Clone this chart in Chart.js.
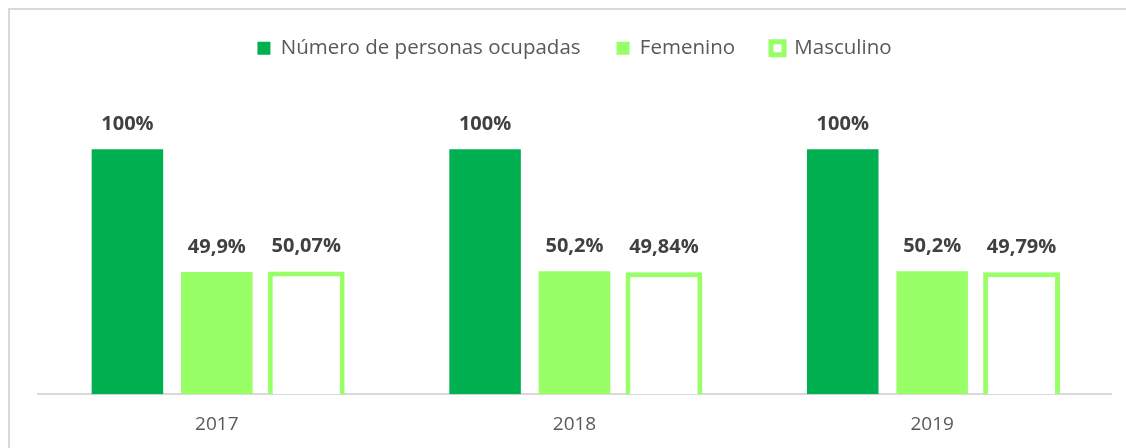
<!DOCTYPE html>
<html>
<head>
<meta charset="utf-8">
<script src="https://cdn.jsdelivr.net/npm/chart.js@4.4.1/dist/chart.umd.min.js"></script>
<style>
  html, body { margin: 0; padding: 0; background: #fff; }
  #wrap { position: relative; width: 1126px; height: 448px; overflow: hidden; }
  #frame { position: absolute; left: 8px; top: 8px; width: 1200px; height: 500px;
           border-top: 2px solid #d9d9d9; border-left: 2px solid #d9d9d9; box-sizing: border-box; }
  canvas { position: absolute; left: 0; top: 0; width: 1126px; height: 455px; }
</style>
</head>
<body>
<div id="wrap">
  <div id="frame"></div>
  <canvas id="chart" width="1126" height="455"></canvas>
</div>
<script>
// ── datos ──
const years = ['2017', '2018', '2019'];
const ocupadas = [100, 100, 100];
const femenino = [49.9, 50.2, 50.2];
const masculino = [50.07, 49.84, 49.79];
const labelsOcupadas = ['100%', '100%', '100%'];
const labelsFemenino = ['49,9%', '50,2%', '50,2%'];
const labelsMasculino = ['50,07%', '49,84%', '49,79%'];

const FONT = "'Open Sans', 'DejaVu Sans', sans-serif";
const DARK = '#00B050';
const LIGHT = '#99FF66';

// ── etiquetas encima de las barras ──
const barLabels = {
  id: 'barLabels',
  afterDatasetsDraw(chart) {
    const ctx = chart.ctx;
    ctx.save();
    ctx.font = `bold 20px ${FONT}`;
    ctx.fillStyle = '#404040';
    ctx.textAlign = 'center';
    ctx.textBaseline = 'bottom';
    chart.data.datasets.forEach((ds, i) => {
      chart.getDatasetMeta(i).data.forEach((bar, j) => {
        ctx.fillText(ds.valueLabels[j], bar.x, bar.y - 15);
      });
    });
    ctx.restore();
  }
};

new Chart(document.getElementById('chart'), {
  type: 'bar',
  data: {
    labels: years,
    datasets: [
      { label: 'Número de personas ocupadas', data: ocupadas, valueLabels: labelsOcupadas,
        backgroundColor: DARK, borderWidth: 0 },
      { label: 'Femenino', data: femenino, valueLabels: labelsFemenino,
        backgroundColor: LIGHT, borderWidth: 0 },
      { label: 'Masculino', data: masculino, valueLabels: labelsMasculino,
        backgroundColor: '#ffffff', borderColor: LIGHT, borderWidth: 5, barPercentage: 0.86 }
    ]
  },
  options: {
    responsive: false,
    maintainAspectRatio: false,
    animation: false,
    devicePixelRatio: 1,
    categoryPercentage: 0.75,
    barPercentage: 0.8,
    layout: { padding: { left: 38, right: 15, top: 2, bottom: 0 } },
    plugins: {
      legend: {
        position: 'top',
        labels: {
          font: { family: FONT, size: 20.5 },
          color: '#595959',
          boxWidth: 13,
          boxHeight: 13,
          padding: 36
        }
      },
      tooltip: { enabled: false }
    },
    scales: {
      x: {
        grid: { display: false, drawTicks: false },
        border: { display: true, color: '#d9d9d9', width: 2 },
        ticks: { font: { family: FONT, size: 19 }, color: '#595959', padding: 19 }
      },
      y: {
        display: false,
        min: 0,
        max: 133
      }
    }
  },
  plugins: [barLabels]
});
</script>
</body>
</html>
